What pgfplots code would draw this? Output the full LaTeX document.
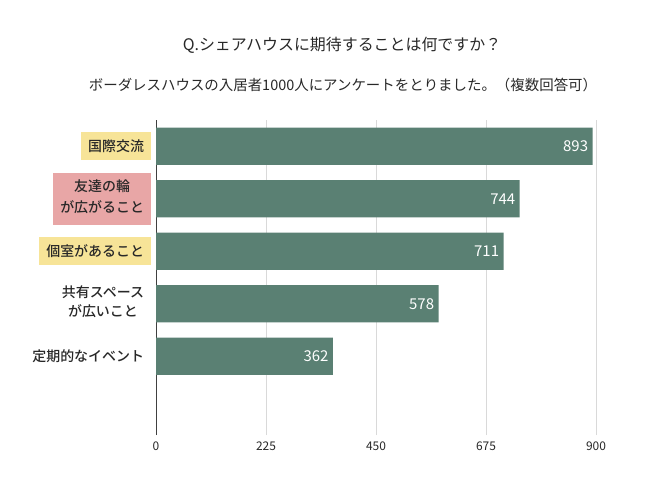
\documentclass[border=0pt]{standalone}
\usepackage{pgfplots}
\pgfplotsset{compat=1.18}
\usepackage{fontspec}
\setmainfont{Noto Sans CJK JP}
\newfontfamily\medfont{Noto Sans CJK JP Medium}
\definecolor{barc}{RGB}{90,128,115}
\definecolor{yel}{RGB}{247,228,152}
\definecolor{pnk}{RGB}{232,166,166}
\definecolor{gridc}{RGB}{217,217,217}
\definecolor{txt}{RGB}{40,40,40}
\begin{document}
\begin{tikzpicture}
\path (0bp,0bp) rectangle (650bp,487bp);
\node[font=\fontsize{16}{18}\selectfont, text=txt] at (342bp,442bp) {Q.シェアハウスに期待することは何ですか？};
\node[font=\fontsize{14.5}{17}\selectfont, text=txt] at (343bp,402bp) {ボーダレスハウスの入居者1000人にアンケートをとりました。（複数回答可）};
\setlength{\fboxsep}{7.5bp}
\begin{axis}[
  at={(156bp,52bp)}, anchor=south west,
  scale only axis, width=440bp, height=315bp,
  xmin=0, xmax=900, ymin=-0.5, ymax=5.5,
  xbar, bar width=37bp,
  xtick={0,225,450,675,900},
  ytick={1,2,3,4,5},
  yticklabels={
    {\colorbox{white}{定期的なイベント}},
    {\colorbox{white}{\begin{tabular}{@{}c@{}}共有スペース\\[2bp]が広いこと\end{tabular}}},
    {\colorbox{yel}{個室があること}},
    {\colorbox{pnk}{\begin{tabular}{@{}c@{}}友達の輪\\[4bp]が広がること\end{tabular}}},
    {\colorbox{yel}{国際交流}}
  },
  axis x line*=bottom, axis y line*=left,
  x axis line style={draw=none},
  y axis line style={draw=black!75, line width=0.8pt},
  major tick length=0pt,
  xmajorgrids, grid style={gridc, line width=0.8pt},
  /pgf/number format/assume math mode=true,
  xticklabel style={font=\fontsize{12}{14}\selectfont, text=txt, yshift=-3bp},
  yticklabel style={font=\medfont\fontsize{14}{16}\selectfont, text=txt, xshift=-1bp},
  nodes near coords,
  nodes near coords style={anchor=east, white, font=\fontsize{15}{17}\selectfont, xshift=-1bp},
  point meta=x,
  clip=false,
]
\addplot[fill=barc, draw=none] coordinates {(362,1) (578,2) (711,3) (744,4) (893,5)};
\end{axis}
\end{tikzpicture}
\end{document}
